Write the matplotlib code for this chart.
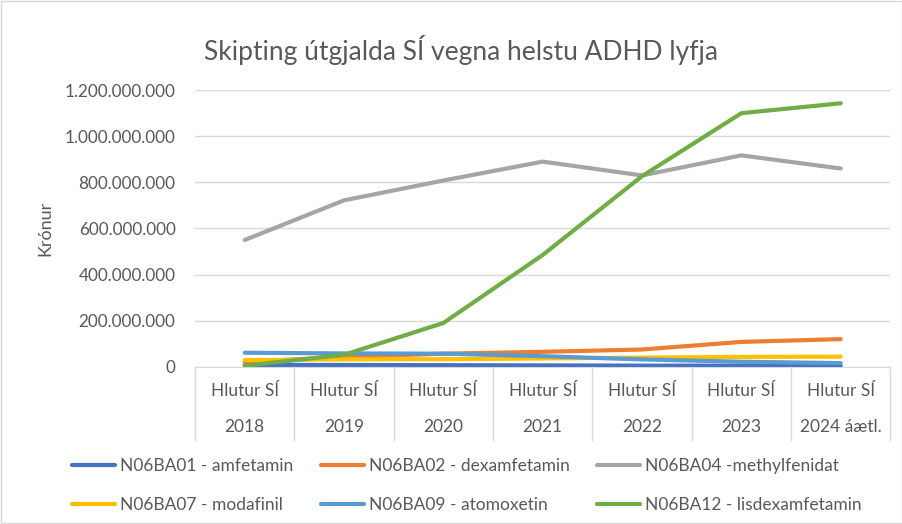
import numpy as np
import matplotlib.pyplot as plt
from matplotlib.ticker import FuncFormatter

plt.rcParams['font.family'] = ['Lato', 'DejaVu Sans']

# ------------------ DATOS ----------------------------------------
ar = ['2018', '2019', '2020', '2021', '2022', '2023', '2024 áætl.']
efri = 'Hlutur SÍ'

amfetamin = [8e6, 8e6, 7e6, 6e6, 5e6, 5e6, 5e6]
dexamfetamin = [22e6, 42e6, 57e6, 65e6, 75e6, 108e6, 120e6]
methylfenidat = [550e6, 722e6, 808e6, 890e6, 830e6, 917e6, 860e6]
modafinil = [29e6, 32e6, 33e6, 36e6, 40e6, 43e6, 44e6]
atomoxetin = [61e6, 58e6, 57e6, 46e6, 32e6, 22e6, 16e6]
lisdexamfetamin = [5e6, 52e6, 190e6, 485e6, 827e6, 1100e6, 1143e6]

# ------------------ FIGURA ----------------------------------------
fig = plt.figure(figsize=(9.03, 5.24), dpi=100)
ax = fig.add_axes([0.216, 0.300, 0.770, 0.528])
txt = '#595959'

x = np.arange(len(ar))
series = [
    (amfetamin, '#4472C4', 'N06BA01 - amfetamin'),
    (dexamfetamin, '#ED7D31', 'N06BA02 - dexamfetamin'),
    (methylfenidat, '#A5A5A5', 'N06BA04 -methylfenidat'),
    (modafinil, '#FFC000', 'N06BA07 - modafinil'),
    (atomoxetin, '#5B9BD5', 'N06BA09 - atomoxetin'),
    (lisdexamfetamin, '#70AD47', 'N06BA12 - lisdexamfetamin'),
]
lines = []
for vals, c, lab in series:
    l, = ax.plot(x, vals, color=c, lw=3, label=lab, solid_capstyle='round')
    lines.append(l)

ax.set_xlim(-0.5, len(ar) - 0.5)
ax.set_ylim(0, 1.2e9)
ax.set_yticks(np.arange(0, 1.2e9 + 1, 2e8))
ax.yaxis.set_major_formatter(FuncFormatter(lambda v, p: f'{int(v):,}'.replace(',', '.')))
ax.grid(axis='y', color='#d9d9d9', lw=1)
ax.set_axisbelow(True)
for s in ['top', 'right', 'left']:
    ax.spines[s].set_visible(False)
ax.spines['bottom'].set_color('#d9d9d9')
ax.tick_params(axis='y', length=0, labelsize=12.3, labelcolor=txt, pad=14)
ax.set_xticks([])

# etiquetas de categoria en dos filas
for i, a in enumerate(ar):
    ax.text(i, -0.088, efri, transform=ax.get_xaxis_transform(), ha='center', va='center',
            fontsize=12.5, color=txt)
    ax.text(i, -0.218, a, transform=ax.get_xaxis_transform(), ha='center', va='center',
            fontsize=12.5, color=txt)
for b in np.arange(-0.5, len(ar), 1.0):
    ax.plot([b, b], [0, -0.265], transform=ax.get_xaxis_transform(), color='#d9d9d9',
            lw=1, clip_on=False)

ax.set_ylabel('Krónur', fontsize=13, color=txt, labelpad=8)
fig.text(0.51, 0.905, 'Skipting útgjalda SÍ vegna helstu ADHD lyfja', ha='center',
         va='center', fontsize=19, color=txt)

order = [0, 3, 1, 4, 2, 5]
leg = fig.legend([lines[i] for i in order], [series[i][2] for i in order], ncol=3,
                 loc='center left', bbox_to_anchor=(0.08, 0.073), frameon=False, fontsize=12.5,
                 handlelength=2.45, handletextpad=0.3, columnspacing=1.6, labelspacing=1.3,
                 borderpad=0, borderaxespad=0)
for t in leg.get_texts():
    t.set_color(txt)

fig.patches.append(plt.Rectangle((0.001, 0.001), 0.998, 0.998, transform=fig.transFigure,
                                 fill=False, edgecolor='#d9d9d9', lw=1))

fig.savefig('out.png', dpi=100)
